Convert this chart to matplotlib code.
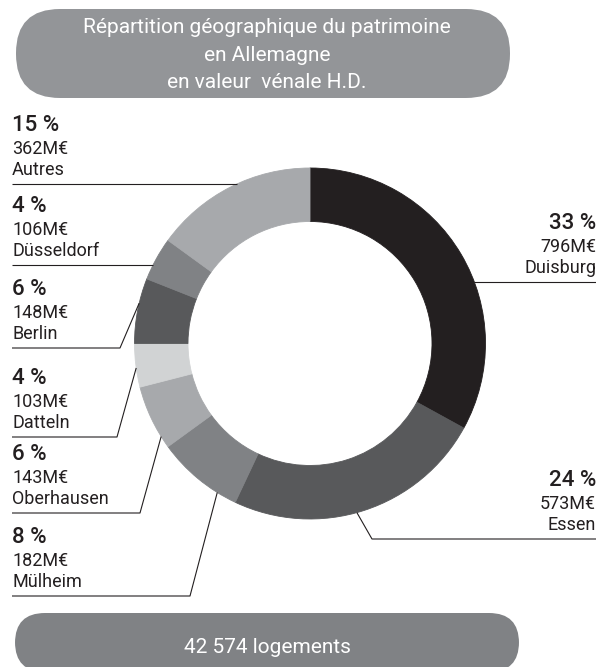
import numpy as np
import matplotlib.pyplot as plt
from matplotlib.patches import FancyBboxPatch

plt.rcParams['font.family'] = ['Roboto', 'DejaVu Sans']

# données
villes = ['Duisburg', 'Essen', 'Mülheim', 'Oberhausen', 'Datteln', 'Berlin', 'Düsseldorf', 'Autres']
pourcents = [33, 24, 8, 6, 4, 6, 4, 15]
valeurs = ['796M€', '573M€', '182M€', '143M€', '103M€', '148M€', '106M€', '362M€']
couleurs = ['#231f20', '#58595b', '#808285', '#a7a9ac', '#d1d3d4', '#58595b', '#808285', '#a7a9ac']

titre = ['Répartition géographique du patrimoine', 'en Allemagne', 'en valeur  vénale H.D.']
pied = '42 574 logements'

# mise en page (pixels, y vers le bas)
W, H = 596, 667
CX, CY = 310, 343.5
R, R_IN = 175.5, 122
# côté, y du trait, x du coude, angle du point sur l'anneau
etiquettes = {
    'Duisburg': ('right', 282, None, None),
    'Essen': ('right', 539, 372, 285.5),
    'Mülheim': ('left', 596, 190, 238.1),
    'Oberhausen': ('left', 513, 140, 212.0),
    'Datteln': ('left', 437, 117, 188.0),
    'Berlin': ('left', 348, 120, 166.7),
    'Düsseldorf': ('left', 265, None, None),
    'Autres': ('left', 184, None, None),
}
TXT = '#231f20'

fig = plt.figure(figsize=(W / 100, H / 100), dpi=100)
ax = fig.add_axes([0, 0, 1, 1])

def Y(y):
    return H - y

wedges, _ = ax.pie(pourcents, colors=couleurs, startangle=90, counterclock=False,
                   radius=R, center=(CX, Y(CY)),
                   wedgeprops=dict(width=R - R_IN, linewidth=0.6))
for w, c in zip(wedges, couleurs):
    w.set_edgecolor(c)

for ville, pct, val in zip(villes, pourcents, valeurs):
    cote, ly, coude, ang = etiquettes[ville]
    if cote == 'left':
        x0, ha = 12, 'left'
    else:
        x0, ha = 596, 'right'
    if coude is None:
        dx = np.sqrt(R ** 2 - (ly - CY) ** 2)
        ex = CX - dx if cote == 'left' else CX + dx
        xs, ys = [x0, ex], [ly, ly]
    else:
        a = np.radians(ang)
        ex, ey = CX + R * np.cos(a), CY - R * np.sin(a)
        xs, ys = [x0, coude, ex], [ly, ly, ey]
    ax.plot(xs, [Y(v) for v in ys], color=TXT, lw=0.8, solid_capstyle='butt')
    ax.text(x0, Y(ly - 53), f'{pct} %', ha=ha, va='baseline', fontsize=16,
            fontweight='medium', color=TXT)
    ax.text(x0, Y(ly - 30), val, ha=ha, va='baseline', fontsize=13, color=TXT)
    ax.text(x0, Y(ly - 9), ville, ha=ha, va='baseline', fontsize=13, color=TXT)

# bandeau du titre
ax.add_patch(FancyBboxPatch((16, Y(98)), 494, 89, boxstyle='round,pad=0,rounding_size=44',
                            fc='#939598', ec='none'))
for ligne, yb in zip(titre, [33, 61, 88]):
    ax.text(267, Y(yb), ligne, ha='center', va='baseline', fontsize=15, color='white')

# bandeau du bas
ax.add_patch(FancyBboxPatch((15, Y(672)), 504, 59, boxstyle='round,pad=0,rounding_size=30',
                            fc='#808285', ec='none'))
ax.text(267, Y(653), pied, ha='center', va='baseline', fontsize=15, color='white')

ax.set_xlim(0, W)
ax.set_ylim(0, H)
ax.axis('off')

fig.savefig('out.png', dpi=100)
